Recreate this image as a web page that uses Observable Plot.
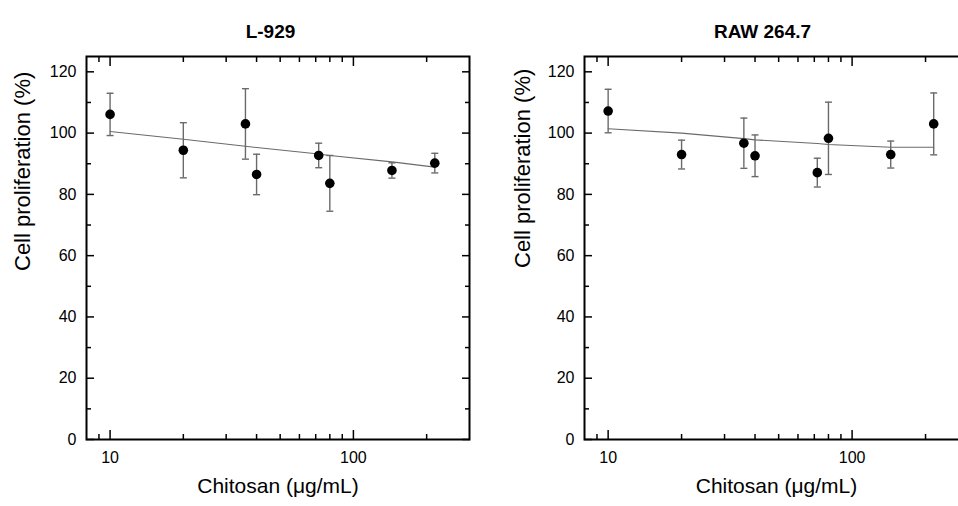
<!DOCTYPE html>
<html><head><meta charset="utf-8">
<script src="https://cdn.jsdelivr.net/npm/d3@7"></script>
<script src="https://cdn.jsdelivr.net/npm/@observablehq/plot@0.6"></script>
<style>
html,body{margin:0;padding:0;background:#fff;overflow:hidden;width:958px}
#wrap{width:958px;height:506px;overflow:hidden;display:flex;flex-wrap:nowrap;background:#fff}
#wrap svg{flex:none;display:block;overflow:hidden}
</style></head><body><div id="wrap"></div>
<script>
const concentrations = [10, 20, 36, 40, 72, 80, 144, 216];
const l929Mean = [106.1, 94.4, 103.0, 86.5, 92.7, 83.6, 87.8, 90.2];
const l929Err  = [6.9, 9.0, 11.5, 6.6, 4.0, 9.1, 2.5, 3.2];
const l929Fit  = [100.5, 98.0, 95.7, 95.3, 93.2, 92.7, 90.6, 88.9];
const rawMean  = [107.2, 93.0, 96.7, 92.6, 87.1, 98.3, 93.0, 103.0];
const rawErr   = [7.1, 4.7, 8.2, 6.8, 4.7, 11.8, 4.4, 10.1];
const rawFit   = [101.4, 100.0, 98.2, 97.8, 96.6, 96.3, 95.4, 95.4];
const panelTitles = ["L-929", "RAW 264.7"];
const xLabel = "Chitosan (μg/mL)";
const yLabel = "Cell proliferation (%)";
const xMajorTicks = [10, 100];
const xMinorTicks = [9, 20, 30, 40, 50, 60, 70, 80, 90, 200];
const yMajorTicks = [0, 20, 40, 60, 80, 100, 120];
const yMinorTicks = [10, 30, 50, 70, 90, 110];

const capSymbol = {draw(ctx, size) { const r = Math.sqrt(size / Math.PI); ctx.moveTo(-r, 0); ctx.lineTo(r, 0); }};
const GRAY = "#6a6a6a";

function panel({title, mean, err, fit, width, marginLeft, marginRight, titleDx, yLabelDx, yLabelDy}) {
  const rows = concentrations.map((c, i) => ({c, m: mean[i], lo: mean[i] - err[i], hi: mean[i] + err[i], f: fit[i]}));
  const tickMarks = [];
  const addTicks = (ticks, size, sw) => {
    tickMarks.push(
      Plot.axisX({anchor: "bottom", ticks, tickSize: size, dy: -size, text: null, label: null, strokeWidth: sw}),
      Plot.axisX({anchor: "top", ticks, tickSize: size, dy: size, text: null, label: null, strokeWidth: sw})
    );
  };
  const addYTicks = (ticks, size, sw) => {
    tickMarks.push(
      Plot.axisY({anchor: "left", ticks, tickSize: size, dx: size, text: null, label: null, strokeWidth: sw}),
      Plot.axisY({anchor: "right", ticks, tickSize: size, dx: -size, text: null, label: null, strokeWidth: sw})
    );
  };
  addTicks(xMajorTicks, 9, 1.5);
  addTicks(xMinorTicks, 5, 1.5);
  addYTicks(yMajorTicks, 8, 1.5);
  addYTicks(yMinorTicks, 5, 1.5);
  return Plot.plot({
    width, height: 506, marginTop: 56, marginBottom: 67, marginLeft, marginRight,
    x: {type: "log", domain: [8, 300]},
    y: {domain: [0, 125]},
    style: {fontFamily: "'Liberation Sans', Arial, Helvetica, sans-serif", background: "#fff", color: "#000", overflow: "hidden"},
    marks: [
      Plot.line(rows, {x: "c", y: "f", stroke: GRAY, strokeWidth: 1.1}),
      Plot.ruleX(rows, {x: "c", y1: "lo", y2: "hi", stroke: GRAY, strokeWidth: 1.4}),
      Plot.dot(rows, {x: "c", y: "lo", symbol: capSymbol, r: 3.5, stroke: GRAY, strokeWidth: 1.4, fill: "none"}),
      Plot.dot(rows, {x: "c", y: "hi", symbol: capSymbol, r: 3.5, stroke: GRAY, strokeWidth: 1.4, fill: "none"}),
      Plot.dot(rows, {x: "c", y: "m", r: 4.8, fill: "#000", stroke: null}),
      ...tickMarks,
      Plot.axisY({ticks: yMajorTicks, tickSize: 0, tickPadding: 10, fontSize: 16, label: null}),
      Plot.axisX({ticks: xMajorTicks, tickSize: 0, tickPadding: 12, fontSize: 16, label: null, tickFormat: d3.format("d")}),
      Plot.frame({stroke: "#000", strokeWidth: 2}),
      Plot.text([title], {frameAnchor: "top", dy: -32, dx: titleDx, fontSize: 19, fontWeight: "bold"}),
      Plot.text([yLabel], {frameAnchor: "left", rotate: -90, dx: yLabelDx, dy: yLabelDy, fontSize: 22}),
      Plot.text([xLabel], {frameAnchor: "bottom", dy: 53, fontSize: 21})
    ]
  });
}

const wrap = document.getElementById("wrap");
wrap.append(panel({title: panelTitles[0], mean: l929Mean, err: l929Err, fit: l929Fit,
  width: 479, marginLeft: 86, marginRight: 10, titleDx: -7.5, yLabelDx: -64, yLabelDy: 23}));
wrap.append(panel({title: panelTitles[1], mean: rawMean, err: rawErr, fit: rawFit,
  width: 479, marginLeft: 105, marginRight: -10, titleDx: -14, yLabelDx: -62, yLabelDy: 20}));
</script></body></html>
